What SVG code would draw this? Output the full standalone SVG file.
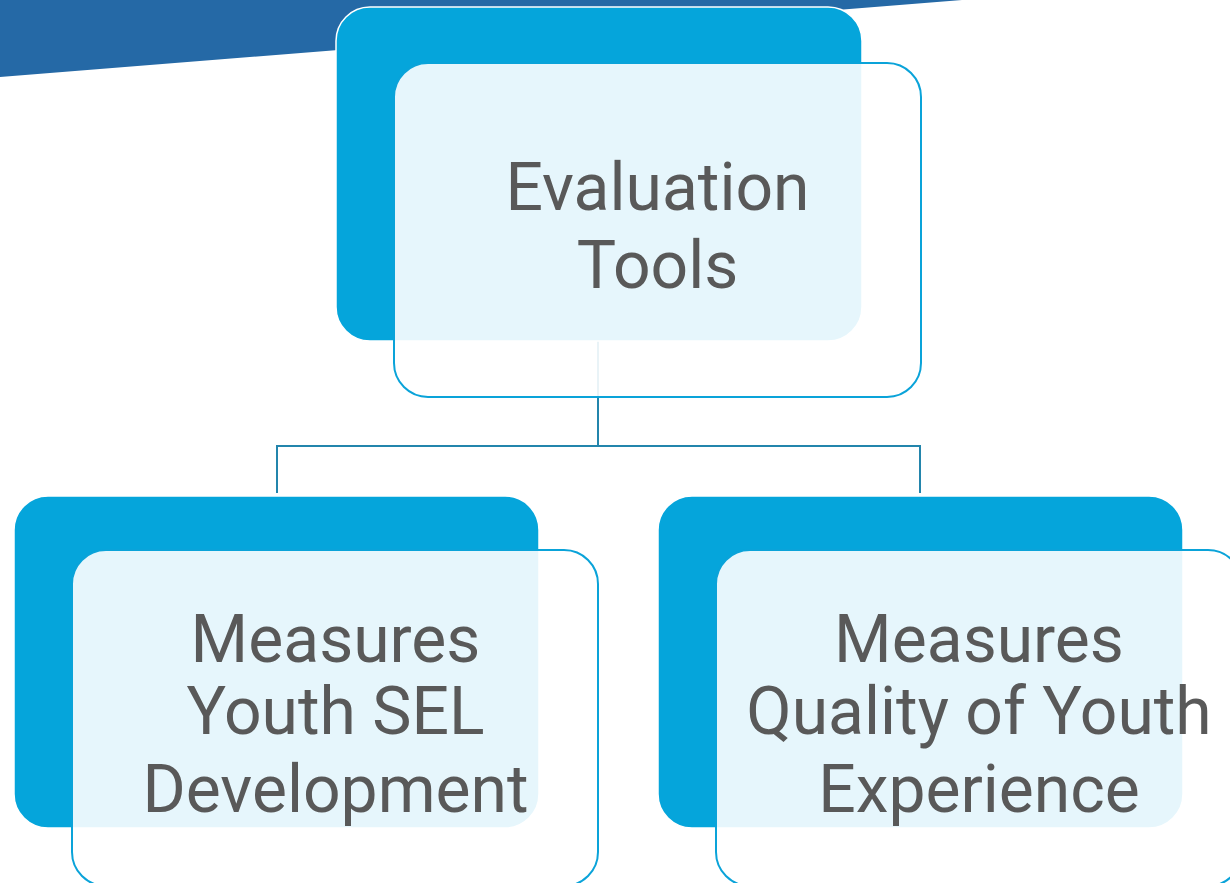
<svg xmlns="http://www.w3.org/2000/svg" width="1230" height="883" viewBox="0 0 1230 883">
<style>
.back{fill:#05A5DB;stroke:#FFFFFF;stroke-width:1.5}
.front{fill:#FFFFFF;fill-opacity:0.9;stroke:#0AA3D9;stroke-width:2}
.lbl{font-family:Roboto,"Liberation Sans",sans-serif;font-size:66px;fill:#595959;text-anchor:middle}
.conn{fill:none;stroke:#2385AC;stroke-width:2}
</style>
<rect width="1230" height="883" fill="#FFFFFF"/>
<polygon points="0,0 962,0 0,77" fill="#2569A6"/>
<g id="connectors">
<path class="conn" d="M598,341 V446 M277,493 V446 H920 V493"/>
</g>
<g id="node-evaluation-tools">
<rect class="back" x="336" y="7" width="526" height="334" rx="34"/>
<rect class="front" x="394" y="63" width="527" height="334" rx="34"/>
<text class="lbl" x="657.5" y="210">Evaluation</text>
<text class="lbl" x="657.5" y="288">Tools</text>
</g>
<g id="node-youth-sel">
<rect class="back" x="14" y="496" width="525" height="332" rx="34"/>
<rect class="front" x="72" y="550" width="526" height="336" rx="34"/>
<text class="lbl" x="335.5" y="662">Measures</text>
<text class="lbl" x="335.5" y="734">Youth SEL</text>
<text class="lbl" x="335.5" y="812">Development</text>
</g>
<g id="node-quality">
<rect class="back" x="658" y="496" width="525" height="332" rx="34"/>
<rect class="front" x="716" y="550" width="526" height="336" rx="34"/>
<text class="lbl" x="979" y="662">Measures</text>
<text class="lbl" x="979" y="734">Quality of Youth</text>
<text class="lbl" x="979" y="812">Experience</text>
</g>
</svg>
